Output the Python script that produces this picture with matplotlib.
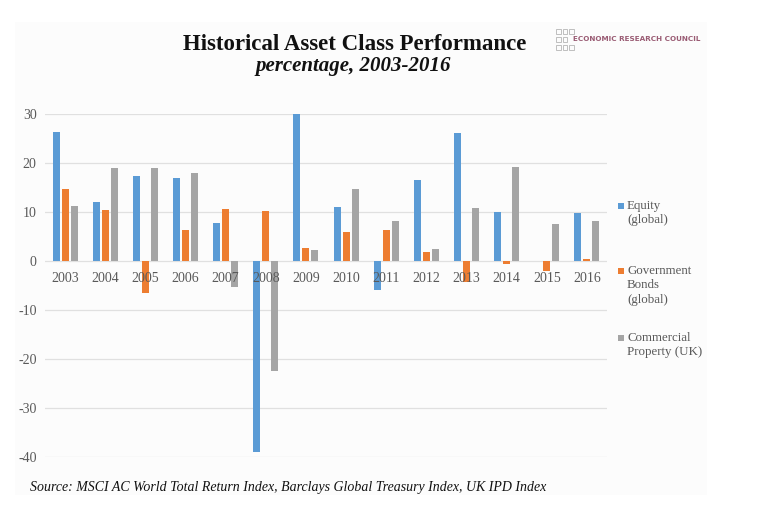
import matplotlib
matplotlib.use("Agg")
import matplotlib.pyplot as plt
from matplotlib.patches import Rectangle
import numpy as np

years = ["2003", "2004", "2005", "2006", "2007", "2008", "2009",
         "2010", "2011", "2012", "2013", "2014", "2015", "2016"]
equity = [26.3, 12.0, 17.4, 17.0, 7.8, -39.0, 30.0, 11.0, -5.9, 16.5, 26.1, 9.9, 0.0, 9.7]
bonds = [14.7, 10.4, -6.6, 6.4, 10.6, 10.2, 2.6, 5.9, 6.4, 1.9, -4.2, -0.7, -2.1, 0.5]
property_uk = [11.3, 18.9, 18.9, 18.0, -5.4, -22.4, 2.2, 14.6, 8.2, 2.4, 10.9, 19.2, 7.6, 8.2]
series_labels = ["Equity\n(global)", "Government\nBonds\n(global)", "Commercial\nProperty (UK)"]
colors = ["#5B9BD5", "#ED7D31", "#A5A5A5"]
yticks = [30, 20, 10, 0, -10, -20, -30, -40]

W, H = 757, 528
fig = plt.figure(figsize=(W / 100, H / 100), dpi=100)
fig.patch.set_facecolor("white")

# faint panel background
fig.patches.append(Rectangle((15 / W, 1 - 495 / H), (707 - 15) / W, (495 - 22) / H,
                             transform=fig.transFigure, facecolor="#FCFCFC",
                             edgecolor="none", zorder=-5))

serif = ["Liberation Serif", "DejaVu Serif"]
ax = fig.add_axes([45 / W, 1 - 457 / H, (607 - 45) / W, (457 - 114) / H])
ax.set_facecolor("none")
ax.set_zorder(2)

x = np.arange(len(years))
bw = 0.175
step = 0.225
for k, (vals, c) in enumerate(zip([equity, bonds, property_uk], colors)):
    ax.bar(x + (k - 1) * step, vals, width=bw, color=c, zorder=3)

ax.set_xlim(-0.5, len(years) - 0.5)
ax.set_ylim(-40, 30)
ax.set_yticks(yticks)
ax.set_yticklabels([str(t) for t in yticks], fontfamily=serif, fontsize=10, color="#595959")
ax.tick_params(axis="y", length=0, pad=6)
ax.set_xticks([])
for s in ax.spines.values():
    s.set_visible(False)
ax.grid(axis="y", color="#E0E0E0", linewidth=0.9, zorder=0)
ax.set_axisbelow(True)

for i, yr in enumerate(years):
    ax.annotate(yr, (i, 0), xytext=(0, -8), textcoords="offset points",
                ha="center", va="top", fontsize=10, color="#595959",
                fontfamily=serif, zorder=4)

# legend
leg_y = [205, 270, 337]
for lbl, c, yy in zip(series_labels, colors, leg_y):
    fig.patches.append(Rectangle((618 / W, 1 - (yy + 4) / H), 6 / W, 6 / H,
                                 transform=fig.transFigure, facecolor=c,
                                 edgecolor="none"))
    fig.text(627 / W, 1 - (yy - 5) / H, lbl, ha="left", va="top", fontsize=9.3,
             color="#595959", fontfamily=serif, linespacing=1.25)

# titles
fig.text(355 / W, 1 - 45 / H, "Historical Asset Class Performance", ha="center",
         va="center", fontsize=16.5, fontweight="bold", fontfamily=serif, color="#111111")
fig.text(353 / W, 1 - 66 / H, "percentage, 2003-2016", ha="center", va="center",
         fontsize=15, fontweight="bold", fontstyle="italic", fontfamily=serif,
         color="#111111")

# logo
for r in range(3):
    for cidx in range(3):
        if r == 1 and cidx == 2:
            continue
        fig.patches.append(Rectangle(((556 + cidx * 6.5) / W, 1 - (30 + r * 8 + 4) / H),
                                     4.5 / W, 4.5 / H, transform=fig.transFigure,
                                     facecolor="none", edgecolor="#B5B5B5", linewidth=0.6))
fig.text(573 / W, 1 - 39 / H, "ECONOMIC RESEARCH COUNCIL", ha="left", va="center",
         fontsize=5.2, fontweight="bold", fontfamily="DejaVu Sans", color="#9A5C74")

fig.text(30 / W, 1 - 488 / H,
         "Source: MSCI AC World Total Return Index, Barclays Global Treasury Index, UK IPD Index",
         ha="left", va="center", fontsize=10, fontstyle="italic", fontfamily=serif,
         color="#111111")

fig.savefig("out.png", dpi=100)
